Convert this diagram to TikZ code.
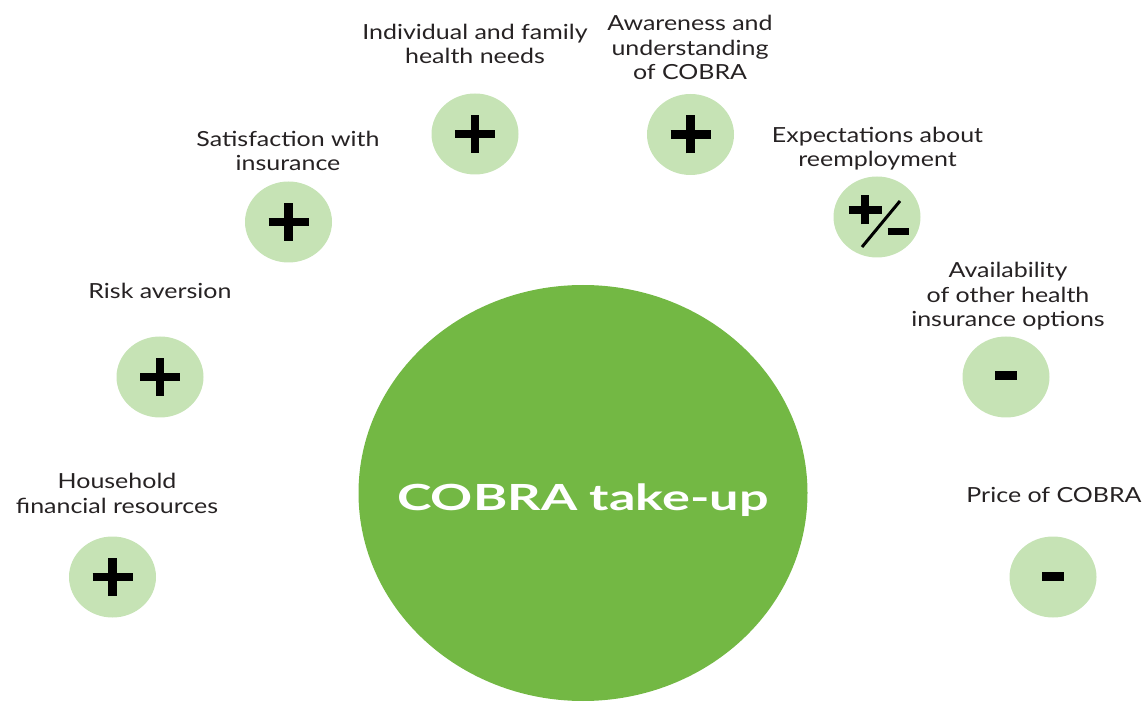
\documentclass[tikz,border=0pt]{standalone}
\usepackage{fontspec}
\setmainfont{Lato}[FakeStretch=1.2]
\newfontfamily\bigfont{Lato}[FakeStretch=1.45]
\usetikzlibrary{shapes.geometric}
\definecolor{biggreen}{RGB}{115,184,68}
\definecolor{lightgreen}{RGB}{198,227,181}
\definecolor{txt}{RGB}{38,34,35}
\tikzset{
  factor/.style={ellipse, fill=lightgreen, draw=none, minimum width=87pt, minimum height=81pt, inner sep=0pt},
  lbl/.style={text=txt, font=\fontsize{20.8}{24.5}\selectfont, align=center, anchor=base, inner sep=0pt},
  signbar/.style={line width=8.5pt, black},
}
\newcommand\mkplus[1]{%
  \draw[signbar] ([xshift=-20pt]#1.center) -- ([xshift=20pt]#1.center);
  \draw[signbar] ([yshift=-19pt]#1.center) -- ([yshift=19pt]#1.center);}
\newcommand\mkminus[1]{%
  \draw[line width=9pt, black] ([xshift=-11pt,yshift=1pt]#1.center) -- ([xshift=11pt,yshift=1pt]#1.center);}
\begin{document}
\begin{tikzpicture}[x=1pt,y=1pt]
\useasboundingbox (0,0) rectangle (1143,702);
% central circle
\node[ellipse, fill=biggreen, minimum width=449pt, minimum height=416pt, inner sep=0pt] (cobra) at (583,209) {};
\node[text=white, font=\bigfont\bfseries\fontsize{36}{40}\selectfont, anchor=base, inner sep=0pt] (cobratxt) at (583,191) {COBRA take-up};
% factor circles
\node[factor] (hh) at (112.5,125) {};
\node[factor] (risk) at (160,325) {};
\node[factor] (sat) at (288.5,480) {};
\node[factor] (ind) at (475,568) {};
\node[factor] (aw) at (690.5,567.5) {};
\node[factor] (exp) at (877,485) {};
\node[factor] (av) at (1006,325) {};
\node[factor] (price) at (1053,125) {};
% labels (anchor base = baseline of last line)
\node[lbl] (hhl) at (117,189) {Household\\financial resources};
\node[lbl] (riskl) at (160,403) {Risk aversion};
\node[lbl] (satl) at (288,531) {Satisfaction with\\insurance};
\node[lbl] (indl) at (475,638) {Individual and family\\health needs};
\node[lbl] (awl) at (690,622) {Awareness and\\understanding\\of COBRA};
\node[lbl] (expl) at (877.5,535) {Expectations about\\reemployment};
\node[lbl] (avl) at (1008,375) {Availability\\of other health\\insurance options};
\node[lbl] (pricel) at (1054,200) {Price of COBRA};
% signs
\mkplus{hh}
\mkplus{risk}
\mkplus{sat}
\mkplus{ind}
\mkplus{aw}
\mkminus{av}
\mkminus{price}
% plus/minus
\draw[line width=8pt, black] ([xshift=-28.5pt,yshift=7pt]exp.center) -- ([xshift=4.5pt,yshift=7pt]exp.center);
\draw[line width=8pt, black] ([xshift=-12pt,yshift=-7.5pt]exp.center) -- ([xshift=-12pt,yshift=21.5pt]exp.center);
\draw[line width=3pt, black] ([xshift=-15pt,yshift=-30pt]exp.center) -- ([xshift=23pt,yshift=16pt]exp.center);
\draw[line width=7pt, black] ([xshift=10.5pt,yshift=-15pt]exp.center) -- ([xshift=31.5pt,yshift=-15pt]exp.center);
\end{tikzpicture}
\end{document}
